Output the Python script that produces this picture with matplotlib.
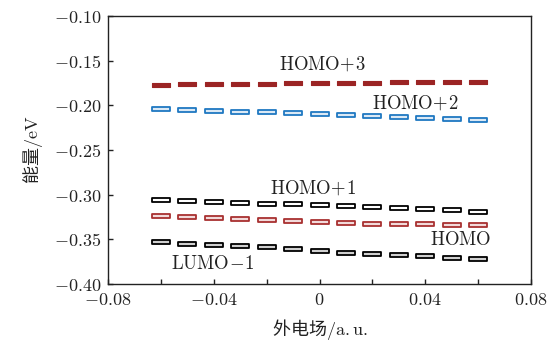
import matplotlib
matplotlib.use("Agg")
import matplotlib.pyplot as plt
from matplotlib.path import Path
from matplotlib.ticker import MultipleLocator, FuncFormatter

plt.rcParams['font.family'] = ['Noto Sans CJK SC', 'DejaVu Sans']
plt.rcParams['mathtext.fontset'] = 'cm'

field = [-0.06, -0.05, -0.04, -0.03, -0.02, -0.01, 0.0, 0.01, 0.02, 0.03, 0.04, 0.05, 0.06]

homo_p3 = [-0.1765, -0.1762, -0.1760, -0.1757, -0.1755, -0.1752, -0.1750,
           -0.1747, -0.1745, -0.1742, -0.1740, -0.1737, -0.1735]
homo_p2 = [-0.2041, -0.2049, -0.2060, -0.2071, -0.2078, -0.2086, -0.2094,
           -0.2103, -0.2119, -0.2134, -0.2145, -0.2156, -0.2164]
homo_p1 = [-0.3060, -0.3071, -0.3082, -0.3088, -0.3099, -0.3105, -0.3116,
           -0.3127, -0.3141, -0.3149, -0.3164, -0.3175, -0.3190]
homo = [-0.3239, -0.3250, -0.3261, -0.3272, -0.3284, -0.3295, -0.3309,
        -0.3317, -0.3325, -0.3328, -0.3332, -0.3336, -0.3340]
lumo_m1 = [-0.3533, -0.3545, -0.3560, -0.3575, -0.3586, -0.3608, -0.3627,
           -0.3647, -0.3664, -0.3679, -0.3690, -0.3706, -0.3724]

# flat rectangle marker for the level dashes
w, h = 1.0, 0.17
dash = Path([(-w, -h), (w, -h), (w, h), (-w, h), (-w, -h)],
            [Path.MOVETO, Path.LINETO, Path.LINETO, Path.LINETO, Path.CLOSEPOLY])

fig, ax = plt.subplots(figsize=(5.49, 3.44), dpi=100)
fig.subplots_adjust(left=0.197, right=0.967, bottom=0.174, top=0.953)

red = '#9b2424'
blue = '#1f78c1'
ms = 13.0
ax.plot(field, homo_p3, ls='none', marker=dash, ms=ms, mfc=red, mec=red, mew=0.8)
ax.plot(field, homo_p2, ls='none', marker=dash, ms=ms, mfc='#dbe9f5', mec=blue, mew=1.3)
ax.plot(field, homo_p1, ls='none', marker=dash, ms=ms, mfc='white', mec='black', mew=1.3)
ax.plot(field, homo, ls='none', marker=dash, ms=ms, mfc='#f2dada', mec='#a83030', mew=1.3)
ax.plot(field, lumo_m1, ls='none', marker=dash, ms=ms, mfc='#cfcfcf', mec='black', mew=1.3)

fs = 13
lfs = 13.5
tc = '#222222'
ax.text(0.001, -0.1537, r'$\mathrm{HOMO}\!+\!3$', fontsize=lfs, ha='center', va='center', color=tc)
ax.text(0.0361, -0.1974, r'$\mathrm{HOMO}\!+\!2$', fontsize=lfs, ha='center', va='center', color=tc)
ax.text(-0.0025, -0.2925, r'$\mathrm{HOMO}\!+\!1$', fontsize=lfs, ha='center', va='center', color=tc)
ax.text(0.0535, -0.3496, r'$\mathrm{HOMO}$', fontsize=lfs, ha='center', va='center', color=tc)
ax.text(-0.0403, -0.3765, r'$\mathrm{LUMO}\!-\!1$', fontsize=lfs, ha='center', va='center', color=tc)

ax.set_xlim(-0.08, 0.08)
ax.set_ylim(-0.40, -0.10)
ax.xaxis.set_major_locator(MultipleLocator(0.04))
ax.xaxis.set_minor_locator(MultipleLocator(0.02))
ax.yaxis.set_major_locator(MultipleLocator(0.05))


def xfmt(v, pos):
    if abs(v) < 1e-9:
        return r'$0$'
    return r'$%.2f$' % v


def yfmt(v, pos):
    return r'$%.2f$' % v


ax.xaxis.set_major_formatter(FuncFormatter(xfmt))
ax.yaxis.set_major_formatter(FuncFormatter(yfmt))
ax.tick_params(which='both', direction='in', length=3.5, width=1.0, top=False, right=False,
               labelsize=fs, colors='#222222', pad=5)
for s in ax.spines.values():
    s.set_linewidth(1.0)
    s.set_color('#222222')

ax.set_xlabel('外电场$\\mathrm{/a.u.}$', fontsize=fs, color=tc, labelpad=6)
ax.set_ylabel('能量$\\mathrm{/eV}$', fontsize=fs, color=tc, labelpad=6)

fig.savefig('out.png', dpi=100)
